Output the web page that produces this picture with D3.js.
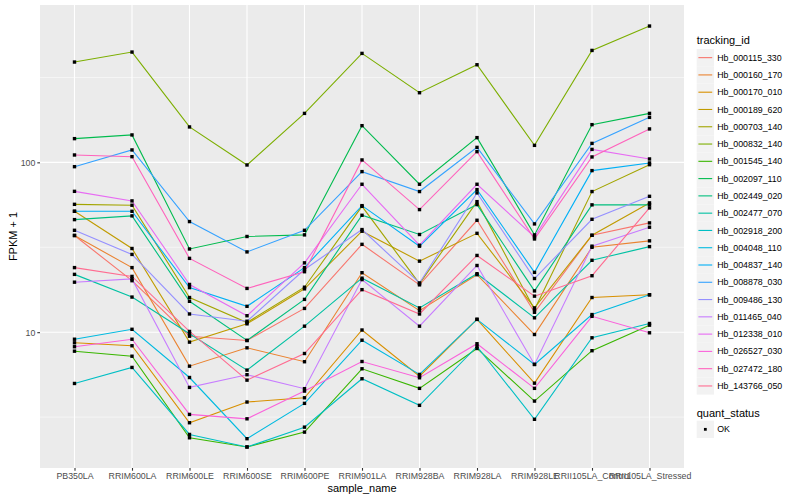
<!DOCTYPE html>
<html><head><meta charset="utf-8">
<script src="https://cdn.jsdelivr.net/npm/d3@7"></script>
<style>
body{margin:0;background:#fff}
svg{display:block}
text{font-family:"Liberation Sans",Arial,Helvetica,sans-serif}
</style>
</head><body>
<svg id="chart" width="800" height="500"></svg>
<script>
// ---------- data ----------
const samples = ["PB350LA","RRIM600LA","RRIM600LE","RRIM600SE","RRIM600PE","RRIM901LA","RRIM928BA","RRIM928LA","RRIM928LE","RRII105LA_Control","RRII105LA_Stressed"];
const trackingIds = ["Hb_000115_330","Hb_000160_170","Hb_000170_010","Hb_000189_620","Hb_000703_140","Hb_000832_140","Hb_001545_140","Hb_002097_110","Hb_002449_020","Hb_002477_070","Hb_002918_200","Hb_004048_110","Hb_004837_140","Hb_008878_030","Hb_009486_130","Hb_011465_040","Hb_012338_010","Hb_026527_030","Hb_027472_180","Hb_143766_050"];
const quantStatus = ["OK"];
const yTickValues = [10, 100];

const hb_000115_330 = [37.1, 20.1, 9.47, 8.94, 13.8, 32.9, 19.0, 45.6, 13.1, 37.2, 44.0];
const hb_000160_170 = [37.1, 24.0, 6.31, 8.09, 6.7, 22.4, 13.4, 21.8, 9.69, 31.6, 34.5];
const hb_000170_010 = [8.66, 8.32, 2.93, 3.88, 4.11, 10.3, 5.51, 11.9, 5.01, 16.0, 16.6];
const hb_000189_620 = [51.5, 31.1, 8.74, 11.2, 18.0, 39.3, 26.2, 38.2, 13.9, 37.2, 57.7];
const hb_000703_140 = [56.6, 55.9, 16.0, 11.4, 18.4, 55.1, 19.3, 58.7, 13.6, 67.3, 96.9];
const hb_000832_140 = [389.6, 446, 161.6, 96.5, 194.2, 438, 257, 375.5, 125.9, 456, 634.6];
const hb_001545_140 = [7.73, 7.22, 2.39, 2.11, 2.58, 6.09, 4.67, 8.02, 3.93, 7.78, 11.0];
const hb_002097_110 = [137.9, 145, 30.9, 36.6, 37.4, 164.4, 74.3, 139.8, 37.4, 166.7, 194.2];
const hb_002449_020 = [46.0, 48.4, 15.2, 8.94, 15.6, 48.8, 37.6, 56.4, 17.5, 56.2, 56.2];
const hb_002477_070 = [21.9, 16.1, 9.79, 5.98, 10.85, 20.8, 13.9, 22.1, 12.15, 26.5, 31.9];
const hb_002918_200 = [4.99, 6.2, 2.5, 2.11, 2.76, 5.32, 3.71, 8.24, 3.07, 9.27, 11.25];
const hb_004048_110 = [9.09, 10.4, 5.41, 2.36, 3.81, 8.97, 5.64, 11.9, 6.46, 12.7, 16.6];
const hb_004837_140 = [51.5, 51.5, 18.3, 14.2, 24.0, 55.6, 32.1, 69.1, 22.5, 89.4, 99.2];
const hb_008878_030 = [94.3, 118.3, 44.8, 29.7, 39.8, 88.2, 67.3, 122.5, 43.4, 129.3, 184];
const hb_009486_130 = [39.8, 28.7, 12.8, 11.6, 23.4, 40.2, 19.5, 66.1, 20.7, 46.2, 63.1];
const hb_011465_040 = [19.7, 20.6, 4.73, 5.62, 4.65, 20.4, 10.85, 24.7, 6.46, 32.1, 41.5];
const hb_012338_010 = [67.5, 59.3, 19.1, 12.5, 25.6, 74.3, 32.5, 74.3, 36.4, 119.2, 104.7];
const hb_026527_030 = [8.21, 9.09, 3.28, 3.09, 4.5, 6.72, 5.39, 8.55, 4.67, 12.4, 9.92];
const hb_027472_180 = [110.5, 108, 27.2, 18.1, 22.7, 103.3, 52.7, 115.6, 35.4, 107.6, 157.3];
const hb_143766_050 = [24.0, 21.3, 10.1, 5.22, 7.49, 17.8, 12.8, 28.3, 16.3, 21.5, 53.9];

const seriesValues = [hb_000115_330, hb_000160_170, hb_000170_010, hb_000189_620, hb_000703_140,
  hb_000832_140, hb_001545_140, hb_002097_110, hb_002449_020, hb_002477_070, hb_002918_200,
  hb_004048_110, hb_004837_140, hb_008878_030, hb_009486_130, hb_011465_040, hb_012338_010,
  hb_026527_030, hb_027472_180, hb_143766_050];

// ---------- styling ----------
const palette = ["#F8766D","#EA8331","#D89000","#C09B00","#A3A500","#7CAE00","#39B600","#00BB4E","#00BF7D","#00C1A3","#00BFC4","#00BAE0","#00B0F6","#35A2FF","#9590FF","#C77CFF","#E76BF3","#FA62DB","#FF62BC","#FF6C91"];
const series = trackingIds.map((id, i) => ({id, values: seriesValues[i]}));

const svg = d3.select("#chart");
const P = {left: 40, right: 684, top: 5, bottom: 468};

const x = d3.scalePoint().domain(samples).range([P.left, P.right]).padding(0.6);

const allVals = seriesValues.flat();
const lo = Math.log10(d3.min(allVals)), hi = Math.log10(d3.max(allVals));
const ex = (hi - lo) * 0.05;
const y = d3.scaleLog().domain([10 ** (lo - ex), 10 ** (hi + ex)]).range([P.bottom, P.top]);

// panel
svg.append("rect").attr("x", P.left).attr("y", P.top)
  .attr("width", P.right - P.left).attr("height", P.bottom - P.top).attr("fill", "#EBEBEB");

const grid = svg.append("g");
const [d0, d1] = y.domain().map(Math.log10);
const minor = [];
for (let k = Math.floor(d0); k <= Math.ceil(d1); k++) { minor.push(10 ** (k + 0.5)); }
grid.selectAll(".minor").data(minor.filter(v => y(v) >= P.top && y(v) <= P.bottom)).enter().append("line")
  .attr("x1", P.left).attr("x2", P.right).attr("y1", d => y(d)).attr("y2", d => y(d))
  .attr("stroke", "#fff").attr("stroke-width", 0.55);
grid.selectAll(".major").data(yTickValues).enter().append("line")
  .attr("x1", P.left).attr("x2", P.right).attr("y1", d => y(d)).attr("y2", d => y(d))
  .attr("stroke", "#fff").attr("stroke-width", 1.1);
grid.selectAll(".vmajor").data(samples).enter().append("line")
  .attr("x1", d => x(d)).attr("x2", d => x(d)).attr("y1", P.top).attr("y2", P.bottom)
  .attr("stroke", "#fff").attr("stroke-width", 1.1);

// lines
const line = d3.line().x((d, i) => x(samples[i])).y(d => y(d));
svg.append("g").selectAll("path").data(series).enter().append("path")
  .attr("d", d => line(d.values)).attr("fill", "none")
  .attr("stroke", (d, i) => palette[i]).attr("stroke-width", 1.1);

// points
const pts = [];
series.forEach(s => s.values.forEach((v, i) => pts.push({s: samples[i], v})));
const ps = 3.4;
svg.append("g").selectAll("rect").data(pts).enter().append("rect")
  .attr("x", d => x(d.s) - ps / 2).attr("y", d => y(d.v) - ps / 2)
  .attr("width", ps).attr("height", ps).attr("fill", "#000");

// axes
const yAxis = svg.append("g").attr("transform", `translate(${P.left},0)`)
  .call(d3.axisLeft(y).tickValues(yTickValues).tickFormat(d3.format("d")).tickSize(2.7).tickPadding(2));
const xAxis = svg.append("g").attr("transform", `translate(0,${P.bottom})`)
  .call(d3.axisBottom(x).tickSize(2.7).tickPadding(2.5));
[yAxis, xAxis].forEach(a => {
  a.select(".domain").remove();
  a.selectAll(".tick line").attr("stroke", "#333").attr("stroke-width", 1.1);
  a.selectAll(".tick text").attr("fill", "#4D4D4D").style("font-size", "8.8px");
});

svg.append("text").attr("x", (P.left + P.right) / 2).attr("y", 492)
  .attr("text-anchor", "middle").style("font-size", "11px").attr("fill", "#000").text("sample_name");
svg.append("text").attr("transform", `translate(17,${(P.top + P.bottom) / 2}) rotate(-90)`)
  .attr("text-anchor", "middle").style("font-size", "11px").attr("fill", "#000").text("FPKM + 1");

// legend: tracking_id
const lg = svg.append("g").attr("transform", "translate(696.7,0)");
lg.append("text").attr("x", 0).attr("y", 44).style("font-size", "11px").text("tracking_id");
const keyH = 17.28, key0 = 49;
const items = lg.selectAll(".item").data(trackingIds).enter().append("g")
  .attr("transform", (d, i) => `translate(0,${key0 + i * keyH})`);
items.append("rect").attr("width", 17.28).attr("height", 17.28).attr("fill", "#F2F2F2");
items.append("line").attr("x1", 1.7).attr("x2", 15.5).attr("y1", 8.64).attr("y2", 8.64)
  .attr("stroke", (d, i) => palette[i]).attr("stroke-width", 1.1);
items.append("text").attr("x", 20.5).attr("y", 8.64).attr("dy", "0.35em")
  .style("font-size", "8.8px").attr("fill", "#000").text(d => d);

// legend: quant_status
const lq = svg.append("g").attr("transform", "translate(696.7,0)");
lq.append("text").attr("x", 0).attr("y", 416.5).style("font-size", "11px").text("quant_status");
const qi = lq.selectAll(".q").data(quantStatus).enter().append("g")
  .attr("transform", (d, i) => `translate(0,${420.7 + i * keyH})`);
qi.append("rect").attr("width", 17.28).attr("height", 17.28).attr("fill", "#F2F2F2");
qi.append("rect").attr("x", 8.64 - 1.4).attr("y", 8.64 - 1.4).attr("width", 2.8).attr("height", 2.8).attr("fill", "#000");
qi.append("text").attr("x", 20.5).attr("y", 8.64).attr("dy", "0.35em")
  .style("font-size", "8.8px").attr("fill", "#000").text(d => d);
</script>
</body></html>
